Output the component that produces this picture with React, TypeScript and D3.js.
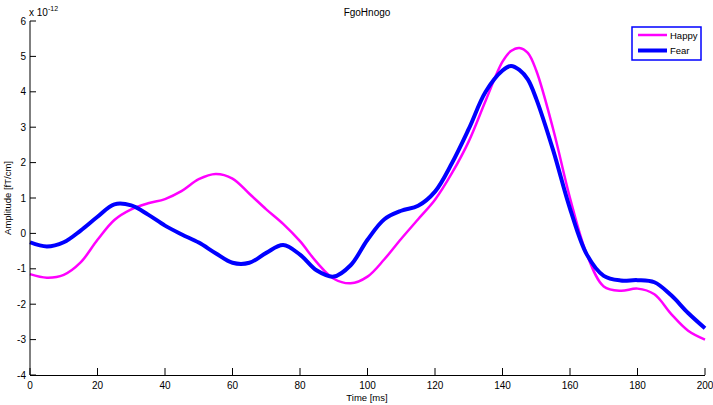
import React, { useEffect, useRef } from 'react';
import * as d3 from 'd3';

// time axis in ms (extra points around the main peak)
const times = [
  0, 5, 10, 15, 20, 25, 30, 35, 40, 45, 50, 55, 60, 65, 70, 75, 80, 85, 90, 95,
  100, 105, 110, 115, 120, 125, 130, 135, 140, 142.5, 145, 147.5, 150, 155, 160,
  165, 170, 175, 180, 185, 190, 195, 200
];

// amplitudes in units of 1e-12 fT/cm
const happy = [
  -1.15, -1.25, -1.17, -0.82, -0.18, 0.38, 0.68, 0.85, 0.97, 1.2, 1.53, 1.68, 1.55, 1.12, 0.68, 0.27, -0.22, -0.82, -1.28, -1.41,
  -1.22, -0.73, -0.15, 0.4, 0.95, 1.7, 2.6, 3.75, 4.85, 5.15, 5.24, 5.1, 4.6, 2.95, 1.0,
  -0.6, -1.5, -1.62, -1.56, -1.72, -2.28, -2.75, -3.0
];

const fear = [
  -0.25, -0.37, -0.25, 0.08, 0.47, 0.82, 0.79, 0.53, 0.22, -0.03, -0.26, -0.56, -0.83, -0.83, -0.55, -0.33, -0.6, -1.05, -1.22, -0.9,
  -0.18, 0.4, 0.64, 0.78, 1.18, 1.98, 2.95, 4.0, 4.6, 4.73, 4.62, 4.35, 3.8, 2.35, 0.7,
  -0.6, -1.2, -1.33, -1.32, -1.38, -1.75, -2.25, -2.68
];

const xTicks = [0, 20, 40, 60, 80, 100, 120, 140, 160, 180, 200];
const yTicks = [-4, -3, -2, -1, 0, 1, 2, 3, 4, 5, 6];

const series = [
  { name: 'Happy', values: happy, color: '#ff00ff', width: 2.5 },
  { name: 'Fear', values: fear, color: '#0000ff', width: 4 }
];

const W = 713;
const H = 405;
const FONT = '"Liberation Sans", Arial, sans-serif';

const App = () => {
  const svgRef = useRef<SVGSVGElement>(null);

  useEffect(() => {
    const svg = d3.select(svgRef.current);
    svg.selectAll('*').remove();

    const margin = { top: 21, right: 8, bottom: 30, left: 30 };
    const width = 705 - margin.left;
    const height = 375 - margin.top;

    const x = d3.scaleLinear().domain([0, 200]).range([0, width]);
    const y = d3.scaleLinear().domain([-4, 6]).range([height, 0]);

    const g = svg.append('g')
      .attr('transform', `translate(${margin.left},${margin.top})`);

    // data lines
    series.forEach(s => {
      const line = d3.line<number>()
        .x((d, i) => x(times[i]))
        .y(d => y(d))
        .curve(d3.curveCatmullRom.alpha(0.5));
      g.append('path')
        .datum(s.values)
        .attr('fill', 'none')
        .attr('stroke', s.color)
        .attr('stroke-width', s.width)
        .attr('stroke-linejoin', 'round')
        .attr('d', line);
    });

    // left axis
    g.append('line')
      .attr('x1', 0).attr('x2', 0)
      .attr('y1', 0).attr('y2', height)
      .attr('stroke', '#000').attr('stroke-width', 1);
    yTicks.forEach(t => {
      g.append('line')
        .attr('x1', 0).attr('x2', 6)
        .attr('y1', y(t)).attr('y2', y(t))
        .attr('stroke', '#000').attr('stroke-width', 1);
      g.append('text')
        .attr('x', -4)
        .attr('y', y(t) + 3.5)
        .attr('text-anchor', 'end')
        .style('font-family', FONT)
        .style('font-size', '10px')
        .text(t);
    });

    // bottom axis
    g.append('line')
      .attr('x1', 0).attr('x2', width)
      .attr('y1', height + 0.5).attr('y2', height + 0.5)
      .attr('stroke', '#000').attr('stroke-width', 1.2);
    xTicks.forEach(t => {
      g.append('line')
        .attr('x1', x(t)).attr('x2', x(t))
        .attr('y1', height).attr('y2', height - 7)
        .attr('stroke', '#000').attr('stroke-width', 1);
      g.append('text')
        .attr('x', x(t))
        .attr('y', height + 14)
        .attr('text-anchor', 'middle')
        .style('font-family', FONT)
        .style('font-size', '10px')
        .text(t);
    });

    // exponent label
    const expo = svg.append('text')
      .attr('x', 29)
      .attr('y', 16)
      .style('font-family', FONT)
      .style('font-size', '10px');
    expo.append('tspan').text('x 10');
    expo.append('tspan')
      .attr('dy', -5)
      .style('font-size', '7px')
      .text('-12');

    // title and axis labels
    svg.append('text')
      .attr('x', 367)
      .attr('y', 16)
      .attr('text-anchor', 'middle')
      .style('font-family', FONT)
      .style('font-size', '10px')
      .text('FgoHnogo');

    svg.append('text')
      .attr('x', 367)
      .attr('y', 401)
      .attr('text-anchor', 'middle')
      .style('font-family', FONT)
      .style('font-size', '9.5px')
      .text('Time [ms]');

    svg.append('text')
      .attr('transform', 'translate(11,198) rotate(-90)')
      .attr('text-anchor', 'middle')
      .style('font-family', FONT)
      .style('font-size', '9.5px')
      .text('Amplitude [fT/cm]');

    // legend
    const legend = svg.append('g').attr('transform', 'translate(632,27)');
    legend.append('rect')
      .attr('x', 0).attr('y', 0)
      .attr('width', 69).attr('height', 33)
      .attr('fill', '#fff')
      .attr('stroke', '#0000ff')
      .attr('stroke-width', 1.5);
    series.forEach((s, i) => {
      const ly = 8 + i * 15.5;
      legend.append('line')
        .attr('x1', 6).attr('x2', 35)
        .attr('y1', ly).attr('y2', ly)
        .attr('stroke', s.color)
        .attr('stroke-width', s.width);
      legend.append('text')
        .attr('x', 38)
        .attr('y', ly + 3.5)
        .style('font-family', FONT)
        .style('font-size', '9.5px')
        .text(s.name);
    });
  }, []);

  return (
    <svg
      ref={svgRef}
      width={W}
      height={H}
      style={{ position: 'absolute', left: 0, top: 0, background: '#fff' }}
    />
  );
};

export default App;
